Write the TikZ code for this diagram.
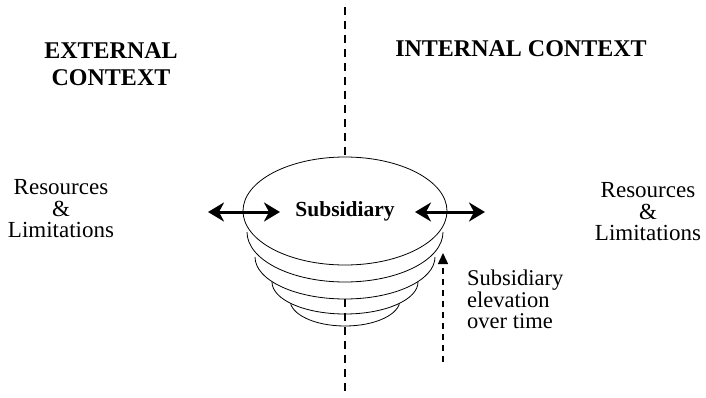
\documentclass[tikz,border=0pt]{standalone}
\usepackage{fontspec}
\setmainfont{Liberation Serif}
\usetikzlibrary{shapes.geometric, arrows.meta, positioning}

\begin{document}
\begin{tikzpicture}[
    x=1pt, y=1pt,
    context/.style={font=\fontsize{24}{27}\selectfont\bfseries, align=center, inner sep=0pt},
    resource/.style={font=\fontsize{23}{21.5}\selectfont, align=center, inner sep=0pt},
    divider/.style={line width=1.4pt, dash pattern=on 8pt off 6pt},
    flow/.style={line width=3pt, {Stealth[length=16pt, width=19pt, inset=5pt]}-{Stealth[length=16pt, width=19pt, inset=5pt]}},
    layer/.style={line width=0.8pt},
    rise/.style={line width=1.3pt, dash pattern=on 6pt off 5pt, -{Triangle[length=11pt, width=10pt]}}
]
    \useasboundingbox (0,0) rectangle (706,397);

    % Bowl layers, lowest first
    \foreach \cy/\rx/\ry in {97/55/26, 115/73/32, 140/90/42, 165/98/50} {
        \fill[white] (345-\rx,\cy) arc[start angle=180, end angle=360, x radius=\rx, y radius=\ry] -- cycle;
        \draw[layer] (345-\rx,\cy) arc[start angle=180, end angle=360, x radius=\rx, y radius=\ry];
    }

    % Subsidiary
    \node[draw, layer, fill=white, ellipse, minimum width=204pt, minimum height=108pt, inner sep=0pt,
          font=\fontsize{21.5}{24}\selectfont\bfseries] (subsidiary) at (345,186) {Subsidiary};

    % Divider
    \coordinate (top end) at (345,390);
    \coordinate (bowl base) at (345,98);
    \coordinate (bottom end) at (345,5);
    \draw[divider] (top end) -- (subsidiary.north);
    \draw[divider] (bowl base) -- (bottom end);

    % Contexts
    \node[context] (external) at (111,332.5) {EXTERNAL\\CONTEXT};
    \node[context] (internal) at (521,348) {INTERNAL CONTEXT};

    % Resources
    \node[resource] (ext res) at (61,188) {Resources\\\&\\Limitations};
    \node[resource] (int res) at (648,185) {Resources\\\&\\Limitations};

    % Exchanges
    \coordinate (left out) at (208,185);
    \coordinate (left in) at (280,185);
    \coordinate (right in) at (415,185);
    \coordinate (right out) at (485,185);
    \draw[flow] (left out) -- (left in);
    \draw[flow] (right in) -- (right out);

    % Elevation
    \coordinate (rise start) at (443,35);
    \coordinate (rise end) at (443,144);
    \draw[rise] (rise start) -- (rise end);
    \node[resource, align=left, anchor=north west, font=\fontsize{22.5}{21.5}\selectfont] (elevation) at (467,127) {Subsidiary\\elevation\\over time};
\end{tikzpicture}
\end{document}
